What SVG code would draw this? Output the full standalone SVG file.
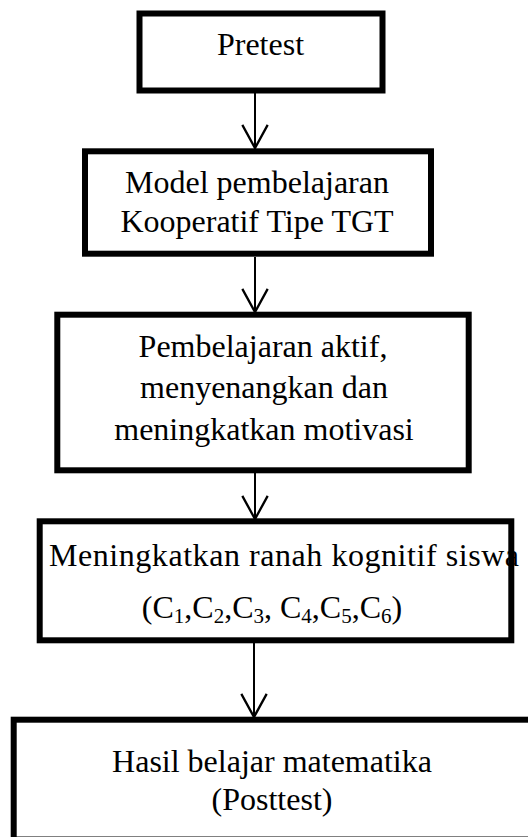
<svg xmlns="http://www.w3.org/2000/svg" width="528" height="837" viewBox="0 0 528 837">
<style>
.box{fill:#fff;stroke:#000;stroke-width:6}
text{font-family:'Liberation Serif','DejaVu Serif',serif;font-size:32px;fill:#000;text-anchor:middle}
.sub{font-size:21px}
.conn{stroke:#000;stroke-width:2;fill:none}
</style>
<defs>
<marker id="arr" markerUnits="userSpaceOnUse" markerWidth="30" markerHeight="30" refX="0" refY="0" viewBox="-22 -13 24 26" orient="auto" overflow="visible">
<path d="M-20,-11 L0,0 L-20,11" fill="none" stroke="#000" stroke-width="2"/>
</marker>
</defs>
<rect width="528" height="837" fill="#fff"/>
<g id="connectors">
<line class="conn" x1="255" y1="93" x2="255" y2="148" marker-end="url(#arr)"/>
<line class="conn" x1="255" y1="257" x2="255" y2="312" marker-end="url(#arr)"/>
<line class="conn" x1="255" y1="473" x2="255" y2="519" marker-end="url(#arr)"/>
<line class="conn" x1="254" y1="643" x2="254" y2="717" marker-end="url(#arr)"/>
</g>
<g id="pretest" font-family="Liberation Serif, serif">
<rect class="box" x="139.5" y="13.5" width="243" height="77"/>
<text x="260.5" y="55">Pretest</text>
</g>
<g id="model" font-family="Liberation Serif, serif">
<rect class="box" x="85" y="151.3" width="346" height="102.4"/>
<text x="257" y="193">Model pembelajaran</text>
<text x="257" y="232">Kooperatif Tipe TGT</text>
</g>
<g id="pembelajaran" font-family="Liberation Serif, serif">
<rect class="box" x="57.3" y="314.7" width="411.4" height="155.6"/>
<text x="263" y="357">Pembelajaran aktif,</text>
<text x="264" y="398">menyenangkan dan</text>
<text x="264" y="440">meningkatkan motivasi</text>
</g>
<g id="kognitif" font-family="Liberation Serif, serif">
<rect class="box" x="39.7" y="521.3" width="471.6" height="119"/>
<text x="284" y="566" textLength="470" lengthAdjust="spacing">Meningkatkan ranah kognitif siswa</text>
<text x="272" y="618">(C<tspan class="sub" dy="5">1</tspan><tspan dy="-5">,C</tspan><tspan class="sub" dy="5">2</tspan><tspan dy="-5">,C</tspan><tspan class="sub" dy="5">3</tspan><tspan dy="-5">, C</tspan><tspan class="sub" dy="5">4</tspan><tspan dy="-5">,C</tspan><tspan class="sub" dy="5">5</tspan><tspan dy="-5">,C</tspan><tspan class="sub" dy="5">6</tspan><tspan dy="-5">)</tspan></text>
</g>
<g id="hasil" font-family="Liberation Serif, serif">
<rect class="box" x="13.7" y="719.7" width="540" height="119.8"/>
<text x="272" y="772">Hasil belajar matematika</text>
<text x="272" y="810">(Posttest)</text>
</g>
</svg>
